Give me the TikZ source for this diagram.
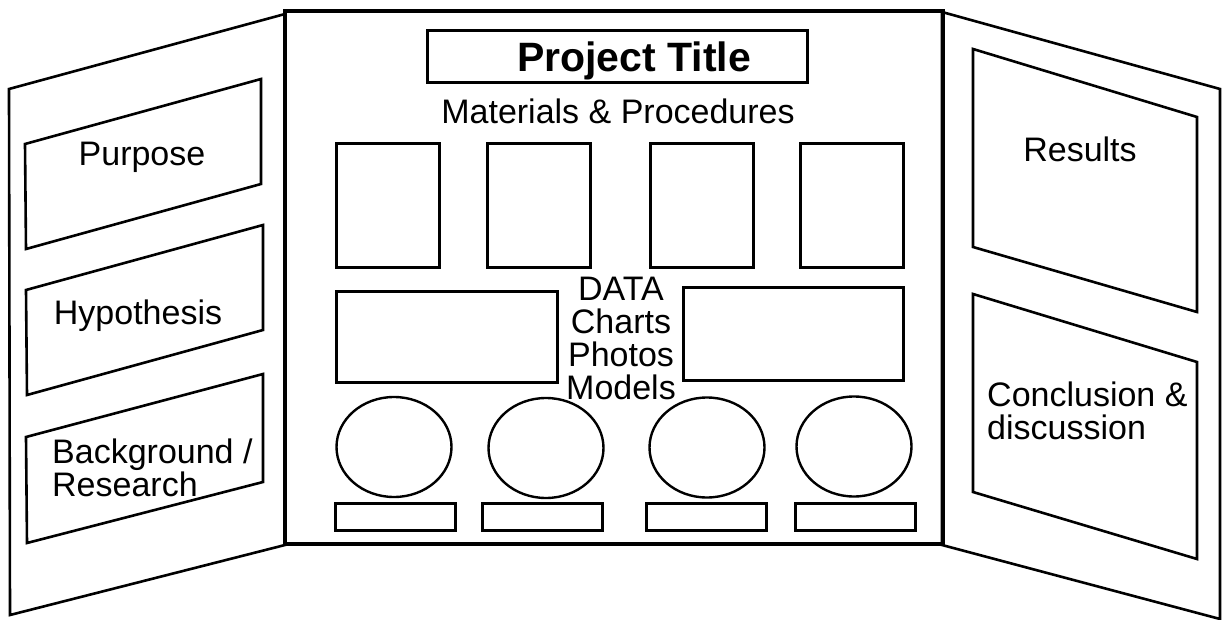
\documentclass[tikz,border=0pt]{standalone}
\usepackage{fontspec}
\setmainfont{Liberation Sans}
\usepackage{tikz}
\usetikzlibrary{shapes.geometric}

\begin{document}
\begin{tikzpicture}[x=1pt, y=-1pt,
  panel/.style={line width=2.6pt, line join=miter},
  box/.style={draw, line width=3pt, inner sep=0pt},
  oval/.style={draw, ellipse, line width=2.4pt, inner sep=0pt, minimum width=115pt, minimum height=100pt},
  lbl/.style={inner sep=0pt, font=\fontsize{34}{33}\selectfont}]
  \useasboundingbox (0,0) rectangle (1225,620);

  % Board panels
  \draw[panel] (9,89) -- (285,14) -- (285,545) -- (10,615) -- cycle;
  \draw[panel] (942,12) -- (1220,89) -- (1220,619) -- (942,545) -- cycle;
  \draw[line width=3.4pt] (285,11) rectangle (943,544);

  % Left wing
  \draw[panel] (25,144) -- (261,79) -- (261,184) -- (26,249) -- cycle;
  \draw[panel] (26,290) -- (263,225) -- (263,330) -- (27,395) -- cycle;
  \draw[panel] (26,437) -- (263,374) -- (263,482) -- (27,543) -- cycle;
  \node[lbl, anchor=base] (purpose) at (142,166) {Purpose};
  \node[lbl, anchor=base] (hypo) at (138,324) {Hypothesis};
  \node[lbl, anchor=north west, align=left] (backgr) at (52,439) {Background /\\Research};

  % Right wing
  \draw[panel] (973,49) -- (1197,117) -- (1197,312) -- (973,247) -- cycle;
  \draw[panel] (973,294) -- (1197,362) -- (1197,559) -- (973,492) -- cycle;
  \node[lbl, anchor=base] (results) at (1080,162) {Results};
  \node[lbl, anchor=north west, align=left] (concl) at (987,382) {Conclusion \&\\discussion};

  % Title and materials
  \node[box, minimum width=380pt, minimum height=52pt] (title) at (617,57) {};
  \node[inner sep=0pt, anchor=base, font=\fontsize{41}{41}\selectfont\bfseries] (titletext) at (634,72) {Project Title};
  \node[lbl, anchor=base] (matproc) at (618,124) {Materials \& Procedures};
  \node[box, minimum width=103pt, minimum height=123pt] (photoA) at (388,205.5) {};
  \node[box, minimum width=103pt, minimum height=123pt] (photoB) at (539,205.5) {};
  \node[box, minimum width=103pt, minimum height=123pt] (photoC) at (702,205.5) {};
  \node[box, minimum width=103pt, minimum height=123pt] (photoD) at (852,205.5) {};

  % Data
  \node[box, minimum width=221pt, minimum height=91pt] (wideL) at (446.5,336.5) {};
  \node[box, minimum width=220pt, minimum height=93pt] (wideR) at (793,333.5) {};
  \node[lbl, align=center] (data) at (621,338) {DATA\\Charts\\Photos\\Models};

  % Models
  \node[oval] (ovalA) at (394,447) {};
  \node[oval] (ovalB) at (546,448) {};
  \node[oval] (ovalC) at (707,447.5) {};
  \node[oval] (ovalD) at (854,446.5) {};
  \node[box, minimum width=120pt, minimum height=27pt] (capA) at (395,516.5) {};
  \node[box, minimum width=120pt, minimum height=27pt] (capB) at (542.5,516.5) {};
  \node[box, minimum width=120pt, minimum height=27pt] (capC) at (706,516.5) {};
  \node[box, minimum width=120pt, minimum height=27pt] (capD) at (855,516.5) {};
\end{tikzpicture}
\end{document}
